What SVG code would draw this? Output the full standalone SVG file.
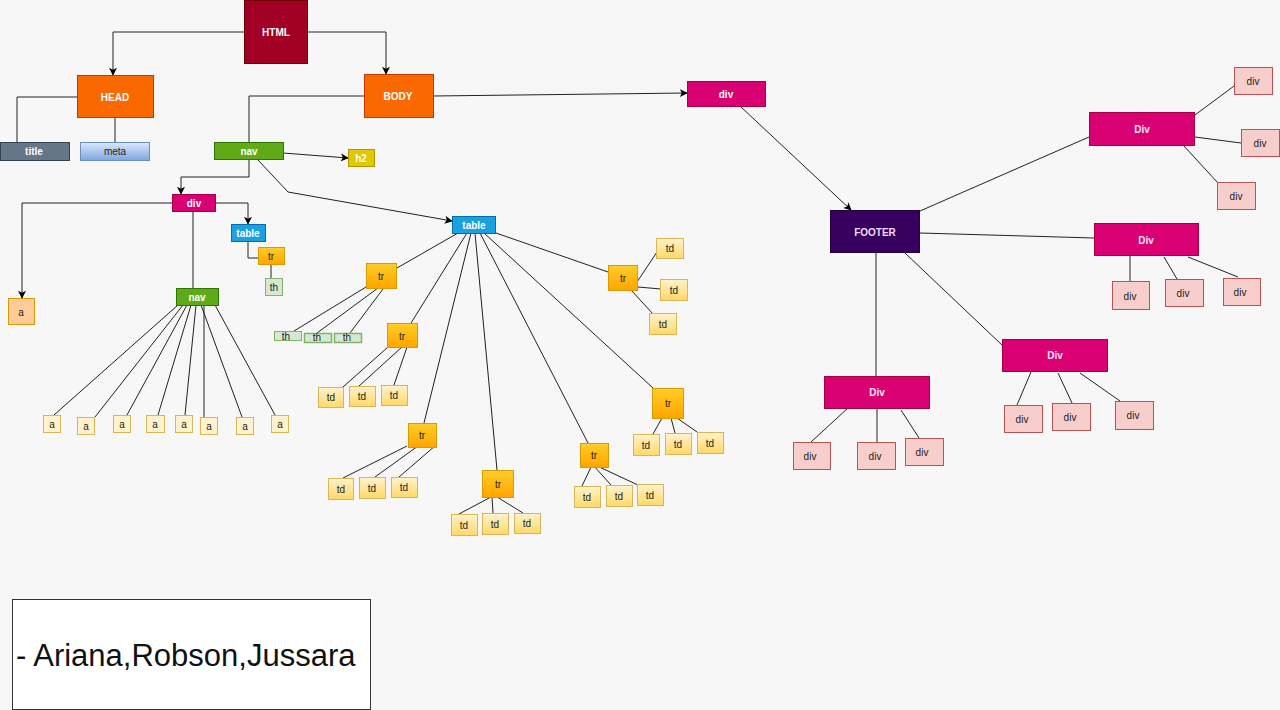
<svg xmlns="http://www.w3.org/2000/svg" width="1280" height="710" viewBox="0 0 1280 710">
<defs>
<linearGradient id="gTr" x1="0" y1="0" x2="0" y2="1"><stop offset="0" stop-color="#ffcd28"/><stop offset="1" stop-color="#ffa500"/></linearGradient>
<linearGradient id="gTd" x1="0" y1="0" x2="0" y2="1"><stop offset="0" stop-color="#fff2cc"/><stop offset="1" stop-color="#ffd966"/></linearGradient>
<linearGradient id="gMeta" x1="0" y1="0" x2="0" y2="1"><stop offset="0" stop-color="#dae8fc"/><stop offset="1" stop-color="#7ea6e0"/></linearGradient>
<marker id="arr" viewBox="0 0 10 10" refX="9" refY="5" markerWidth="8" markerHeight="8" markerUnits="userSpaceOnUse" orient="auto"><path d="M0,0 L10,5 L0,10 L2.5,5 z" fill="#000"/></marker>
</defs>
<style>
text{font-family:"Liberation Sans",Arial,sans-serif;font-size:10px;text-anchor:middle;dominant-baseline:central}
.w{fill:#fff;font-weight:bold}
.k{fill:#222}
.c line,.c polyline{stroke:#222;stroke-width:1;fill:none}
.a{marker-end:url(#arr)}
.html{fill:#a20025;stroke:#6f0000}
.org{fill:#fa6800;stroke:#c73500}
.gry{fill:#647687;stroke:#314354}
.meta{fill:url(#gMeta);stroke:#6c8ebf}
.grn{fill:#60a917;stroke:#2d7600}
.yel{fill:#e3c800;stroke:#b09500}
.pnk{fill:#d80073;stroke:#a50040}
.blu{fill:#1ba1e2;stroke:#006eaf}
.tr{fill:url(#gTr);stroke:#d79b00}
.td{fill:url(#gTd);stroke:#d6b656}
.th{fill:#d5e8d4;stroke:#82b366}
.la{fill:#fff2cc;stroke:#d6b656}
.oa{fill:#ffcc99;stroke:#d79b00}
.ft{fill:#37005f;stroke:#2a0045}
.pd{fill:#f8cecc;stroke:#b85450}
.dv{fill:#ffe6f4;font-weight:bold}
</style>
<rect width="1280" height="710" fill="#f7f7f7"/>

<g class="c" id="connectors">
<polyline class="a" points="244,32 113,32 113,75"/>
<polyline class="a" points="307,32 386,32 386,74"/>
<polyline points="77,97 17,97 17,142"/>
<line x1="115" y1="117" x2="115" y2="161"/>
<polyline points="364,96 249,96 249,142"/>
<line class="a" x1="433" y1="96" x2="687" y2="93"/>
<line class="a" x1="283" y1="153" x2="348" y2="158"/>
<polyline class="a" points="249,160 249,177 181,177 181,194"/>
<polyline class="a" points="258,160 288,192 452,221"/>
<polyline class="a" points="172,203 22,203 22,298"/>
<polyline class="a" points="215,203 248,203 248,224"/>
<line x1="193" y1="211" x2="193" y2="288"/>
<polyline points="248,241 248,258 258,258"/>
<line x1="271" y1="264" x2="271" y2="278"/>
<line x1="178" y1="305" x2="54" y2="415"/>
<line x1="183" y1="305" x2="95" y2="417"/>
<line x1="187" y1="305" x2="127" y2="415"/>
<line x1="191" y1="305" x2="158" y2="415"/>
<line x1="196" y1="305" x2="185" y2="415"/>
<line x1="204" y1="305" x2="204" y2="417"/>
<line x1="201" y1="305" x2="242" y2="417"/>
<line x1="215" y1="305" x2="275" y2="415"/>
<line x1="458" y1="233" x2="397" y2="268"/>
<line x1="366" y1="287" x2="294" y2="331"/>
<line x1="378" y1="288" x2="317" y2="333"/>
<line x1="383" y1="289" x2="350" y2="333"/>
<line x1="467" y1="233" x2="411" y2="323"/>
<line x1="388" y1="347" x2="343" y2="387"/>
<line x1="402" y1="347" x2="359" y2="386"/>
<line x1="407" y1="347" x2="394" y2="385"/>
<line x1="471" y1="233" x2="424" y2="423"/>
<line x1="407" y1="446" x2="343" y2="478"/>
<line x1="418" y1="446" x2="375" y2="477"/>
<line x1="435" y1="446" x2="399" y2="477"/>
<line x1="475" y1="233" x2="497" y2="470"/>
<line x1="491" y1="497" x2="459" y2="514"/>
<line x1="492" y1="497" x2="493" y2="513"/>
<line x1="497" y1="497" x2="523" y2="513"/>
<line x1="480" y1="233" x2="588" y2="443"/>
<line x1="592" y1="465" x2="582" y2="486"/>
<line x1="593" y1="465" x2="611" y2="485"/>
<line x1="595" y1="465" x2="638" y2="485"/>
<line x1="484" y1="233" x2="653" y2="388"/>
<line x1="662" y1="418" x2="653" y2="434"/>
<line x1="671" y1="418" x2="675" y2="433"/>
<line x1="677" y1="418" x2="697" y2="432"/>
<line x1="496" y1="233" x2="608" y2="272"/>
<line x1="637" y1="282" x2="657" y2="252"/>
<line x1="638" y1="287" x2="661" y2="289"/>
<line x1="631" y1="290" x2="653" y2="314"/>
<line class="a" x1="741" y1="107" x2="851" y2="210"/>
<line x1="920" y1="211" x2="1089" y2="137"/>
<line x1="920" y1="233" x2="1094" y2="238"/>
<line x1="876" y1="253" x2="876" y2="376"/>
<line x1="905" y1="253" x2="1002" y2="345"/>
<line x1="1195" y1="115" x2="1234" y2="86"/>
<line x1="1195" y1="137" x2="1241" y2="143"/>
<line x1="1184" y1="146" x2="1218" y2="183"/>
<line x1="1130" y1="256" x2="1130" y2="281"/>
<line x1="1164" y1="257" x2="1177" y2="279"/>
<line x1="1188" y1="257" x2="1238" y2="277"/>
<line x1="848" y1="408" x2="811" y2="442"/>
<line x1="877" y1="408" x2="877" y2="442"/>
<line x1="901" y1="410" x2="919" y2="438"/>
<line x1="1031" y1="372" x2="1017" y2="405"/>
<line x1="1058" y1="373" x2="1072" y2="403"/>
<line x1="1080" y1="373" x2="1120" y2="401"/>
</g>

<g id="html"><rect class="html" x="244.5" y="0.5" width="63" height="63"/><text class="w" x="276" y="32">HTML</text></g>
<g id="head"><rect class="org" x="77.5" y="75.5" width="76" height="42"/><text class="w" x="115" y="97">HEAD</text></g>
<g id="body"><rect class="org" x="364.5" y="74.5" width="69" height="43"/><text class="w" x="398" y="96">BODY</text></g>
<g id="title"><rect class="gry" x="0.5" y="142.5" width="69" height="18"/><text class="w" x="34" y="151">title</text></g>
<g id="meta"><rect class="meta" x="80.5" y="142.5" width="69" height="18"/><text class="k" x="115" y="151">meta</text></g>
<g id="nav1"><rect class="grn" x="214.5" y="142.5" width="69" height="17"/><text class="w" x="249" y="151">nav</text></g>
<g id="h2"><rect class="yel" x="348.5" y="149.5" width="26" height="17"/><text class="w" x="361" y="158">h2</text></g>
<g id="div1"><rect class="pnk" x="172.5" y="194.5" width="43" height="17"/><text class="w" x="194" y="203">div</text></g>
<g id="table1"><rect class="blu" x="231.5" y="224.5" width="34" height="17"/><text class="w" x="248" y="233">table</text></g>
<g id="tr0"><rect class="tr" x="258.5" y="247.5" width="26" height="17"/><text class="k" x="271" y="256">tr</text></g>
<g id="th0"><rect class="th" x="265.5" y="278.5" width="17" height="17"/><text class="k" x="274" y="287">th</text></g>
<g id="a0"><rect class="oa" x="8.5" y="298.5" width="26" height="26"/><text class="k" x="21" y="312">a</text></g>
<g id="nav2"><rect class="grn" x="176.5" y="288.5" width="42" height="17"/><text class="w" x="197" y="297">nav</text></g>
<g id="a1"><rect class="la" x="43.5" y="415.5" width="17" height="17"/><text class="k" x="52" y="424">a</text></g>
<g id="a2"><rect class="la" x="77.5" y="417.5" width="17" height="17"/><text class="k" x="86" y="426">a</text></g>
<g id="a3"><rect class="la" x="113.5" y="415.5" width="17" height="17"/><text class="k" x="122" y="424">a</text></g>
<g id="a4"><rect class="la" x="146.5" y="415.5" width="18" height="17"/><text class="k" x="155" y="424">a</text></g>
<g id="a5"><rect class="la" x="175.5" y="415.5" width="17" height="17"/><text class="k" x="184" y="424">a</text></g>
<g id="a6"><rect class="la" x="200.5" y="417.5" width="17" height="17"/><text class="k" x="209" y="426">a</text></g>
<g id="a7"><rect class="la" x="236.5" y="417.5" width="17" height="17"/><text class="k" x="245" y="426">a</text></g>
<g id="a8"><rect class="la" x="271.5" y="415.5" width="17" height="17"/><text class="k" x="280" y="424">a</text></g>

<g id="table2"><rect class="blu" x="452.5" y="216.5" width="43" height="17"/><text class="w" x="474" y="225">table</text></g>
<g id="tr1"><rect class="tr" x="366.5" y="263.5" width="30" height="25"/><text class="k" x="381" y="276">tr</text></g>
<g id="th1"><rect class="th" x="274.5" y="331.5" width="27" height="9"/><text class="k" x="286" y="336">th</text></g>
<g id="th2"><rect class="th" x="304.5" y="333.5" width="27" height="9" stroke-width="1.5"/><text class="k" x="317" y="337">th</text></g>
<g id="th3"><rect class="th" x="334.5" y="333.5" width="27" height="9" stroke-width="1.5"/><text class="k" x="347" y="337">th</text></g>
<g id="tr2"><rect class="tr" x="387.5" y="323.5" width="30" height="24"/><text class="k" x="402" y="336">tr</text></g>
<g id="td21"><rect class="td" x="318.5" y="387.5" width="25" height="20"/><text class="k" x="331" y="397">td</text></g>
<g id="td22"><rect class="td" x="349.5" y="386.5" width="26" height="20"/><text class="k" x="362" y="396">td</text></g>
<g id="td23"><rect class="td" x="381.5" y="385.5" width="26" height="20"/><text class="k" x="394" y="395">td</text></g>
<g id="tr3"><rect class="tr" x="408.5" y="423.5" width="28" height="24"/><text class="k" x="422" y="435">tr</text></g>
<g id="td31"><rect class="td" x="328.5" y="478.5" width="25" height="21"/><text class="k" x="341" y="489">td</text></g>
<g id="td32"><rect class="td" x="359.5" y="477.5" width="26" height="21"/><text class="k" x="372" y="488">td</text></g>
<g id="td33"><rect class="td" x="391.5" y="477.5" width="26" height="20"/><text class="k" x="404" y="487">td</text></g>
<g id="tr4"><rect class="tr" x="482.5" y="470.5" width="31" height="27"/><text class="k" x="498" y="484">tr</text></g>
<g id="td41"><rect class="td" x="451.5" y="514.5" width="26" height="21"/><text class="k" x="464" y="525">td</text></g>
<g id="td42"><rect class="td" x="482.5" y="513.5" width="26" height="21"/><text class="k" x="495" y="524">td</text></g>
<g id="td43"><rect class="td" x="514.5" y="513.5" width="26" height="20"/><text class="k" x="527" y="523">td</text></g>
<g id="tr5"><rect class="tr" x="580.5" y="443.5" width="28" height="24"/><text class="k" x="594" y="455">tr</text></g>
<g id="td51"><rect class="td" x="574.5" y="486.5" width="26" height="21"/><text class="k" x="587" y="497">td</text></g>
<g id="td52"><rect class="td" x="606.5" y="485.5" width="26" height="21"/><text class="k" x="619" y="496">td</text></g>
<g id="td53"><rect class="td" x="637.5" y="484.5" width="26" height="21"/><text class="k" x="650" y="495">td</text></g>
<g id="tr6"><rect class="tr" x="652.5" y="388.5" width="31" height="30"/><text class="k" x="668" y="403">tr</text></g>
<g id="td61"><rect class="td" x="633.5" y="434.5" width="26" height="21"/><text class="k" x="646" y="445">td</text></g>
<g id="td62"><rect class="td" x="665.5" y="433.5" width="26" height="21"/><text class="k" x="678" y="444">td</text></g>
<g id="td63"><rect class="td" x="697.5" y="432.5" width="26" height="21"/><text class="k" x="710" y="443">td</text></g>
<g id="tr7"><rect class="tr" x="608.5" y="265.5" width="29" height="25"/><text class="k" x="623" y="278">tr</text></g>
<g id="td71"><rect class="td" x="656.5" y="238.5" width="27" height="20"/><text class="k" x="670" y="248">td</text></g>
<g id="td72"><rect class="td" x="660.5" y="279.5" width="27" height="21"/><text class="k" x="674" y="290">td</text></g>
<g id="td73"><rect class="td" x="649.5" y="313.5" width="27" height="21"/><text class="k" x="663" y="324">td</text></g>

<g id="div2"><rect class="pnk" x="687.5" y="81.5" width="78" height="25"/><text class="w" x="726" y="94">div</text></g>
<g id="footer"><rect class="ft" x="830.5" y="210.5" width="89" height="42"/><text class="w" x="875" y="232" style="fill:#f2d9ff">FOOTER</text></g>
<g id="Div1"><rect class="pnk" x="1089.5" y="112.5" width="105" height="33"/><text class="dv" x="1142" y="129">Div</text></g>
<g id="d11"><rect class="pd" x="1234.5" y="67.5" width="38" height="27"/><text class="k" x="1253" y="81">div</text></g>
<g id="d12"><rect class="pd" x="1241.5" y="129.5" width="38" height="27"/><text class="k" x="1260" y="143">div</text></g>
<g id="d13"><rect class="pd" x="1217.5" y="182.5" width="38" height="27"/><text class="k" x="1236" y="196">div</text></g>
<g id="Div2"><rect class="pnk" x="1094.5" y="223.5" width="104" height="32"/><text class="dv" x="1146" y="240">Div</text></g>
<g id="d21"><rect class="pd" x="1112.5" y="281.5" width="37" height="28"/><text class="k" x="1130" y="296">div</text></g>
<g id="d22"><rect class="pd" x="1165.5" y="279.5" width="38" height="27"/><text class="k" x="1183" y="293">div</text></g>
<g id="d23"><rect class="pd" x="1223.5" y="278.5" width="37" height="27"/><text class="k" x="1240" y="292">div</text></g>
<g id="Div3"><rect class="pnk" x="824.5" y="376.5" width="105" height="32"/><text class="dv" x="877" y="392">Div</text></g>
<g id="d31"><rect class="pd" x="793.5" y="442.5" width="37" height="27"/><text class="k" x="810" y="456">div</text></g>
<g id="d32"><rect class="pd" x="857.5" y="442.5" width="38" height="27"/><text class="k" x="875" y="456">div</text></g>
<g id="d33"><rect class="pd" x="905.5" y="438.5" width="38" height="27"/><text class="k" x="922" y="452">div</text></g>
<g id="Div4"><rect class="pnk" x="1002.5" y="339.5" width="105" height="32"/><text class="dv" x="1055" y="355">Div</text></g>
<g id="d41"><rect class="pd" x="1004.5" y="405.5" width="38" height="27"/><text class="k" x="1022" y="419">div</text></g>
<g id="d42"><rect class="pd" x="1052.5" y="403.5" width="38" height="27"/><text class="k" x="1070" y="417">div</text></g>
<g id="d43"><rect class="pd" x="1115.5" y="401.5" width="38" height="28"/><text class="k" x="1133" y="415">div</text></g>

<g id="credits"><rect x="12.5" y="599.5" width="358" height="110" fill="#fff" stroke="#333"/><text x="16" y="666" style="font-size:31px;text-anchor:start;dominant-baseline:auto;fill:#111">- Ariana,Robson,Jussara</text></g>
</svg>
